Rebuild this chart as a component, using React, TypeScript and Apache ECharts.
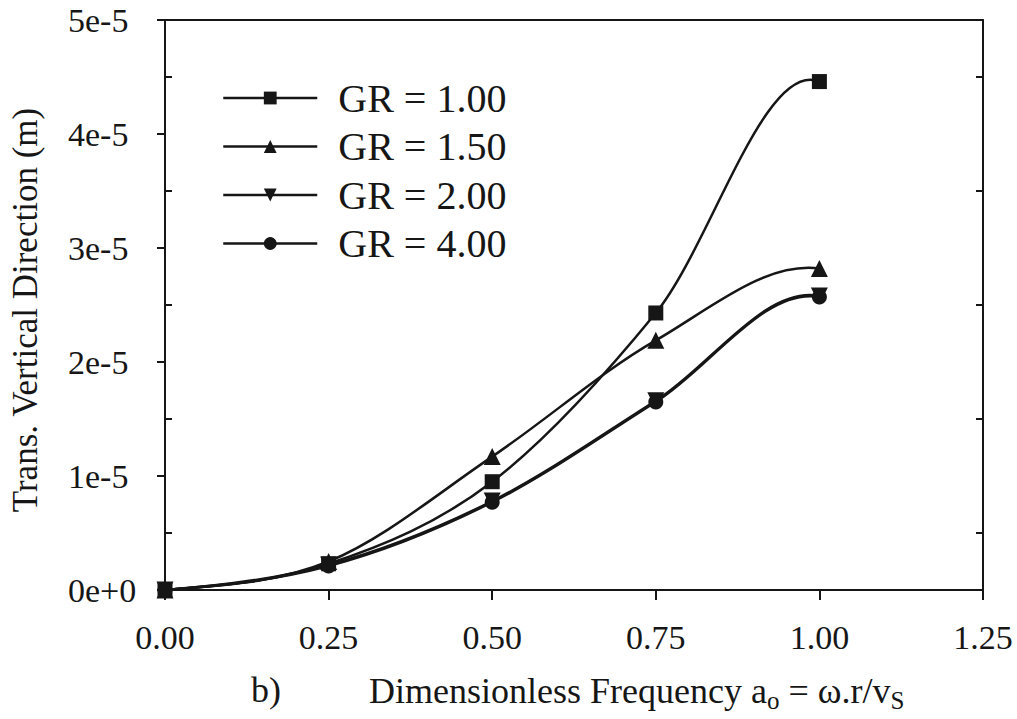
import React, { useEffect, useRef } from "react";
import * as echarts from "echarts";

const xValues = [0, 0.25, 0.5, 0.75, 1.0];
const gr100 = [0, 2.3e-6, 9.5e-6, 2.43e-5, 4.46e-5];
const gr150 = [0, 2.5e-6, 1.17e-5, 2.19e-5, 2.82e-5];
const gr200 = [0, 2.2e-6, 7.8e-6, 1.66e-5, 2.58e-5];
const gr400 = [0, 2.1e-6, 7.7e-6, 1.65e-5, 2.57e-5];
const seriesNames = ["GR = 1.00", "GR = 1.50", "GR = 2.00", "GR = 4.00"];
const yMinorTicks = [0.5e-5, 1.5e-5, 2.5e-5, 3.5e-5, 4.5e-5];
const yTitle = "Trans. Vertical Direction (m)";
const xTitleRich = "{n|Dimensionless Frequency a}{s|o}{n| = ω.r/v}{s|S}";
const panelLabel = "b)";

const FONT = "Liberation Serif";
const INK = "#161616";

// Hermite spline (Catmull-Rom inside, eased ends) expressed as cubic Bezier control points in data space
function splineSegments(xs: number[], ys: number[]) {
  const n = xs.length;
  const m: number[] = [];
  for (let i = 0; i < n; i++) {
    if (i === 0) m.push(0.5 * (ys[1] - ys[0]) / (xs[1] - xs[0]));
    else if (i === n - 1) m.push(-0.3 * (ys[n - 1] - ys[n - 2]) / (xs[n - 1] - xs[n - 2]));
    else m.push((ys[i + 1] - ys[i - 1]) / (xs[i + 1] - xs[i - 1]));
  }
  const segs: number[][][] = [];
  for (let i = 0; i < n - 1; i++) {
    const h = xs[i + 1] - xs[i];
    segs.push([
      [xs[i], ys[i]],
      [xs[i] + h / 3, ys[i] + (m[i] * h) / 3],
      [xs[i + 1] - h / 3, ys[i + 1] - (m[i + 1] * h) / 3],
      [xs[i + 1], ys[i + 1]],
    ]);
  }
  return segs;
}

export default function App() {
  const ref = useRef<HTMLDivElement>(null);
  useEffect(() => {
    if (!ref.current) return;
    const chart = echarts.init(ref.current, null, { renderer: "svg" });
    const pair = (ys: number[]) => xValues.map((x, i) => [x, ys[i]]);
    const markers = (name: string, ys: number[], symbol: string, size: number, rotate = 0) => ({
      name,
      type: "line",
      data: pair(ys),
      symbol,
      symbolSize: size,
      symbolRotate: rotate,
      showSymbol: true,
      lineStyle: { color: INK, width: 0, opacity: 0 },
      itemStyle: { color: INK },
      z: 4,
    });
    const curve = (ys: number[]) => ({
      type: "custom",
      data: [[xValues[0], ys[0]]],
      silent: true,
      z: 3,
      renderItem: (_params: any, api: any) => {
        const segs = splineSegments(xValues, ys);
        let d = "";
        segs.forEach((s, i) => {
          const p = s.map((q) => api.coord(q));
          if (i === 0) d += `M${p[0][0]},${p[0][1]}`;
          d += ` C${p[1][0]},${p[1][1]} ${p[2][0]},${p[2][1]} ${p[3][0]},${p[3][1]}`;
        });
        return {
          type: "path",
          shape: { pathData: d },
          style: { fill: "none", stroke: INK, lineWidth: 2.5 },
        };
      },
    });
    const txt = (size: number) => ({ fontFamily: FONT, fontSize: size, color: INK });
    chart.setOption({
      animation: false,
      backgroundColor: "#ffffff",
      grid: { left: 165, right: 34, top: 20, bottom: 129, containLabel: false },
      legend: {
        orient: "vertical",
        left: 217,
        top: 73,
        itemWidth: 94,
        itemHeight: 16,
        itemGap: 8.5,
        data: seriesNames,
        lineStyle: { color: INK, width: 2.5, opacity: 1 },
        textStyle: { ...txt(40), lineHeight: 40, padding: [0, 0, 0, 16] },
      },
      xAxis: [
        {
          type: "value",
          min: 0,
          max: 1.25,
          interval: 0.25,
          position: "bottom",
          axisLine: { show: true, onZero: false, lineStyle: { color: INK, width: 2 } },
          axisTick: { show: true, inside: false, length: 10, lineStyle: { color: INK, width: 2 } },
          axisLabel: { formatter: (v: number) => v.toFixed(2), ...txt(34), margin: 30 },
          splitLine: { show: false },
        },
        {
          type: "value",
          min: 0,
          max: 1.25,
          interval: 0.25,
          position: "top",
          axisLine: { show: true, onZero: false, lineStyle: { color: INK, width: 2 } },
          axisTick: { show: false },
          axisLabel: { show: false },
          splitLine: { show: false },
        },
      ],
      yAxis: [
        {
          type: "value",
          min: 0,
          max: 5e-5,
          interval: 1e-5,
          position: "left",
          axisLine: { show: true, onZero: false, lineStyle: { color: INK, width: 2 } },
          axisTick: { show: true, inside: false, length: 8, lineStyle: { color: INK, width: 2 } },
          axisLabel: {
            formatter: (v: number) => (v === 0 ? "0e+0" : `${Math.round(v / 1e-5)}e-5`),
            ...txt(34),
            align: "left",
            margin: 97,
          },
          splitLine: { show: false },
        },
        {
          type: "value",
          min: 0,
          max: 5e-5,
          interval: 1e-5,
          position: "left",
          axisLine: { show: false },
          axisTick: {
            show: true,
            inside: true,
            length: 7,
            customValues: yMinorTicks,
            lineStyle: { color: INK, width: 2 },
          },
          axisLabel: { show: false },
          splitLine: { show: false },
        },
        {
          type: "value",
          min: 0,
          max: 5e-5,
          interval: 1e-5,
          position: "right",
          axisLine: { show: true, onZero: false, lineStyle: { color: INK, width: 2 } },
          axisTick: {
            show: true,
            inside: true,
            length: 7,
            customValues: yMinorTicks,
            lineStyle: { color: INK, width: 2 },
          },
          axisLabel: { show: false },
          splitLine: { show: false },
        },
      ],
      graphic: [
        {
          type: "text",
          x: 25,
          y: 310,
          rotation: Math.PI / 2,
          style: {
            text: yTitle,
            fontFamily: FONT,
            fontSize: 35,
            fill: INK,
            align: "center",
            verticalAlign: "middle",
          },
        },
        {
          type: "text",
          x: 251,
          y: 672,
          style: { text: panelLabel, fontFamily: FONT, fontSize: 36, fill: INK, align: "left", verticalAlign: "top" },
        },
        {
          type: "text",
          x: 369,
          y: 673,
          style: {
            text: xTitleRich,
            fontFamily: FONT,
            fontSize: 36,
            fill: INK,
            align: "left",
            verticalAlign: "top",
            rich: {
              n: { fontFamily: FONT, fontSize: 36, fill: INK, lineHeight: 36, verticalAlign: "top" },
              s: { fontFamily: FONT, fontSize: 25, fill: INK, lineHeight: 36, padding: [15, 0, 0, 0], verticalAlign: "top" },
            },
          },
        },
      ],
      series: [
        curve(gr100),
        curve(gr150),
        curve(gr200),
        curve(gr400),
        markers(seriesNames[0], gr100, "rect", 15),
        markers(seriesNames[1], gr150, "triangle", 17),
        markers(seriesNames[2], gr200, "triangle", 17, 180),
        markers(seriesNames[3], gr400, "circle", 15),
      ],
    });
    return () => chart.dispose();
  }, []);
  return (
    <div
      ref={ref}
      style={{ position: "fixed", left: 0, top: 0, width: 1017, height: 719, background: "#fff" }}
    />
  );
}
